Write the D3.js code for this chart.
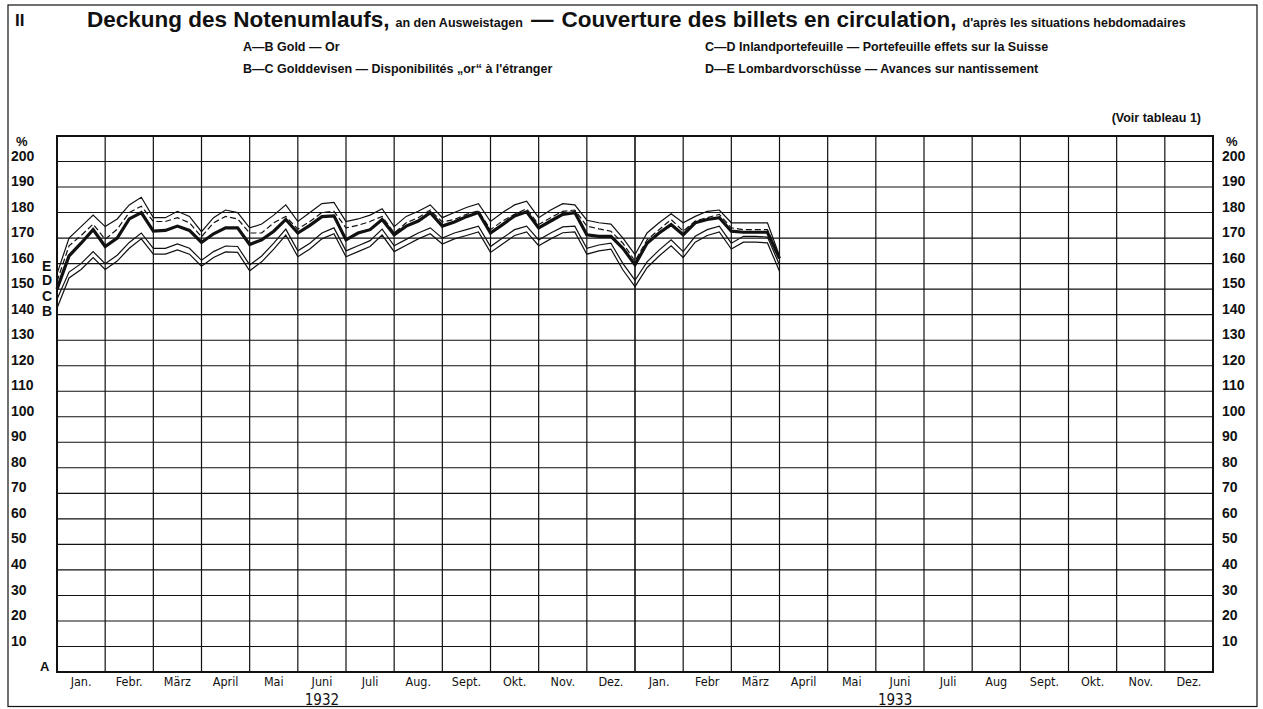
<!DOCTYPE html>
<html>
<head>
<meta charset="utf-8">
<script src="https://cdn.jsdelivr.net/npm/d3@7"></script>
<style>
  body { margin: 0; background: #fff; }
  svg { display: block; }
  text { font-family: "Liberation Sans", Arial, sans-serif; fill: #111; }
  .narrow { font-family: "Liberation Sans Narrow", "DejaVu Sans Condensed", "Liberation Sans", sans-serif; }
</style>
</head>
<body>
<svg id="chart"></svg>
<script>
// month labels for the two years
const months1932 = ["Jan.", "Febr.", "März", "April", "Mai", "Juni", "Juli", "Aug.", "Sept.", "Okt.", "Nov.", "Dez."];
const months1933 = ["Jan.", "Febr", "März", "April", "Mai", "Juni", "Juli", "Aug", "Sept.", "Okt.", "Nov.", "Dez."];
const yTicks = [10, 20, 30, 40, 50, 60, 70, 80, 90, 100, 110, 120, 130, 140, 150, 160, 170, 180, 190, 200];

// weekly statements, end of Dec 1931 .. end of March 1933 (4 per month)
const weeks = d3.range(61).map(i => i / 4);

// cumulative coverage in %
const lineB = [142.5, 154.4, 157.7, 162.4, 157.7, 161, 166, 169.7, 163.7, 163.7, 165.4, 163.7, 159, 162.4, 164.6, 164.4,
  157.2, 160.7, 165.7, 171.2, 162.7, 165.7, 169.7, 171.7, 162.7, 164.7, 166.7, 171.2, 164.7, 167.2, 169.7, 171.7,
  167.7, 169.7, 171, 172.4, 164.4, 167.7, 171, 172.4, 167, 169.7, 172.1, 172.4, 163.7, 165, 165.7, 157.5,
  151, 158.4, 163, 167, 162.4, 168.4, 171, 172.4, 165.7, 168.4, 168.4, 168.1, 157];
const lineC = [146, 156.7, 160, 164.7, 160, 163.3, 168.3, 172, 166, 166, 167.7, 166, 161.3, 164.7, 166.9, 166.7,
  159.5, 163, 168, 173.5, 165, 168, 172, 174, 165, 167, 169, 173.5, 167, 169.5, 172, 174,
  170, 172, 173.3, 174.7, 166.7, 170, 173.3, 174.7, 169.3, 172, 174.4, 174.7, 166, 167.3, 168, 160,
  153.5, 160.7, 165.3, 169.3, 164.7, 170.7, 173.3, 174.7, 168, 170.7, 170.7, 170.4, 159.5];
const lineD = [150, 163, 168, 173.3, 166.7, 170, 177.5, 180, 172.7, 173, 174.7, 173, 168.3, 171.7, 174, 174,
  167.5, 169.3, 172.7, 177.3, 172, 175, 178.4, 178.7, 169.3, 172, 173.3, 177.3, 171.3, 174.7, 176.7, 180,
  174.7, 176.3, 178.4, 180, 172, 175.3, 178.7, 180.3, 174, 176.7, 179.3, 180, 171.3, 170.7, 170.7, 166,
  159.5, 168, 172, 175.3, 171.3, 176, 177.3, 178, 172.7, 172.3, 172.3, 172.3, 162];
const lineDashed = [153, 167, 171, 175.5, 169.5, 173.5, 180, 182.5, 176.5, 176.5, 178, 176, 170.5, 176, 178.5, 177.5,
  172, 172, 176, 178.5, 173.5, 176.5, 180, 180.5, 174, 175, 176.5, 178.5, 172, 176, 178, 181,
  176.3, 177.3, 179.3, 180.7, 173.3, 176.7, 179.3, 181.5, 175.3, 178, 180.5, 181, 174.7, 173.6, 172.7, 168,
  161, 169.3, 173.3, 177.3, 172.7, 176.7, 178, 179.3, 174, 173.3, 173.3, 173.3, 162.5];
const lineE = [156, 170, 174.5, 179, 174.5, 177.5, 183, 186, 178, 178, 180.5, 178.5, 172.5, 178, 181, 180,
  174, 175.5, 179, 183, 176.5, 180, 183.5, 184, 176.5, 177.5, 179, 181.5, 174.5, 178.5, 180.5, 183,
  178, 180, 182, 183.5, 176.5, 180, 183, 184.5, 178, 181, 183.5, 183, 177, 176, 175.5, 170,
  163.5, 172, 176, 179.5, 176, 178.5, 180.5, 181, 176, 176, 176, 176, 163];

const W = 1263, H = 709;
const svg = d3.select("#chart").attr("width", W).attr("height", H);

const x = d3.scaleLinear().domain([0, 24]).range([57, 1213]);
const y = d3.scaleLinear().domain([0, 210]).range([672, 136]);

// outer frame
svg.append("rect").attr("x", 8).attr("y", 5).attr("width", 1249).attr("height", 701.5)
  .attr("fill", "none").attr("stroke", "#111").attr("stroke-width", 1.2);

// header
svg.append("text").attr("x", 15).attr("y", 26).attr("font-size", 17).attr("font-weight", "bold").text("II");

const title = svg.append("text").attr("x", 87).attr("y", 27).attr("font-weight", "bold");
title.append("tspan").attr("font-size", 22.5).text("Deckung des Notenumlaufs,");
title.append("tspan").attr("font-size", 12.5).attr("dx", 6).text("an den Ausweistagen");
title.append("tspan").attr("font-size", 22.5).attr("dx", 8).text("—");
title.append("tspan").attr("font-size", 22.5).attr("dx", 8).text("Couverture des billets en circulation,");
title.append("tspan").attr("font-size", 12.5).attr("dx", 6).text("d'après les situations hebdomadaires");

const legend = [
  { x: 243, y: 51, t: "A—B  Gold  —  Or" },
  { x: 243, y: 73, t: "B—C  Golddevisen  —  Disponibilités „or“ à l'étranger" },
  { x: 705, y: 51, t: "C—D  Inlandportefeuille  —  Portefeuille effets sur la Suisse" },
  { x: 705, y: 73, t: "D—E  Lombardvorschüsse  —  Avances sur nantissement" }
];
svg.selectAll(".leg").data(legend).enter().append("text")
  .attr("class", "leg").attr("x", d => d.x).attr("y", d => d.y)
  .attr("font-size", 12.5).attr("font-weight", "bold").text(d => d.t);

svg.append("text").attr("x", 1201).attr("y", 122).attr("text-anchor", "end")
  .attr("font-size", 12.5).attr("font-weight", "bold").text("(Voir tableau 1)");

// grid
const grid = svg.append("g").attr("stroke", "#111");
grid.selectAll(".h").data(yTicks).enter().append("line")
  .attr("x1", x(0)).attr("x2", x(24))
  .attr("y1", d => y(d)).attr("y2", d => y(d)).attr("stroke-width", 1.1);
grid.selectAll(".v").data(d3.range(1, 24)).enter().append("line")
  .attr("x1", d => x(d)).attr("x2", d => x(d))
  .attr("y1", y(210)).attr("y2", y(0)).attr("stroke-width", d => d === 12 ? 1.6 : 1.2);

// plot frame
svg.append("rect").attr("x", x(0)).attr("y", y(210))
  .attr("width", x(24) - x(0)).attr("height", y(0) - y(210))
  .attr("fill", "none").attr("stroke", "#111").attr("stroke-width", 2);

// y axis labels both sides
const axisL = d3.axisLeft(y).tickValues(yTicks).tickSize(0).tickPadding(0);
const gl = svg.append("g").attr("transform", "translate(11,0)").call(axisL);
gl.select(".domain").remove();
gl.selectAll("text").attr("text-anchor", "start").attr("dy", "-0.1em")
  .attr("font-size", 14).attr("font-weight", "bold").attr("fill", "#111")
  .attr("font-family", "'Liberation Sans', Arial, sans-serif");

const axisR = d3.axisRight(y).tickValues(yTicks).tickSize(0).tickPadding(0);
const gr = svg.append("g").attr("transform", "translate(1222,0)").call(axisR);
gr.select(".domain").remove();
gr.selectAll("text").attr("dy", "-0.1em")
  .attr("font-size", 14).attr("font-weight", "bold").attr("fill", "#111")
  .attr("font-family", "'Liberation Sans', Arial, sans-serif");

svg.append("text").attr("x", 16).attr("y", 146).attr("font-size", 13).attr("font-weight", "bold").text("%");
svg.append("text").attr("x", 1226).attr("y", 146).attr("font-size", 13).attr("font-weight", "bold").text("%");

// line letters
svg.append("text").attr("x", 40).attr("y", y(0) - 1).attr("font-size", 13).attr("font-weight", "bold").text("A");
const letters = [{ l: "E", v: 159 }, { l: "D", v: 153.5 }, { l: "C", v: 147.5 }, { l: "B", v: 141.5 }];
svg.selectAll(".let").data(letters).enter().append("text")
  .attr("class", "let").attr("x", 42).attr("y", d => y(d.v) + 5)
  .attr("font-size", 14).attr("font-weight", "bold").text(d => d.l);

// month labels
const monthLabels = months1932.concat(months1933);
svg.selectAll(".mon").data(monthLabels).enter().append("text")
  .attr("class", "mon narrow").attr("x", (d, i) => x(i + 0.5)).attr("y", 686)
  .attr("text-anchor", "middle").attr("font-size", 12.5).text(d => d);
svg.append("text").attr("class", "narrow").attr("x", x(5.5)).attr("y", 704.5)
  .attr("text-anchor", "middle").attr("font-size", 15).text("1932");
svg.append("text").attr("class", "narrow").attr("x", x(17.4)).attr("y", 704.5)
  .attr("text-anchor", "middle").attr("font-size", 15).text("1933");

// series
const line = d3.line().x((d, i) => x(weeks[i])).y(d => y(d));
const series = [
  { data: lineB, w: 1.2, dash: null },
  { data: lineC, w: 1.2, dash: null },
  { data: lineD, w: 3.2, dash: null },
  { data: lineDashed, w: 1.2, dash: "6,3" },
  { data: lineE, w: 1.2, dash: null }
];
svg.append("g").selectAll("path").data(series).enter().append("path")
  .attr("d", d => line(d.data))
  .attr("fill", "none").attr("stroke", "#111")
  .attr("stroke-width", d => d.w)
  .attr("stroke-dasharray", d => d.dash)
  .attr("stroke-linejoin", "miter");
</script>
</body>
</html>
